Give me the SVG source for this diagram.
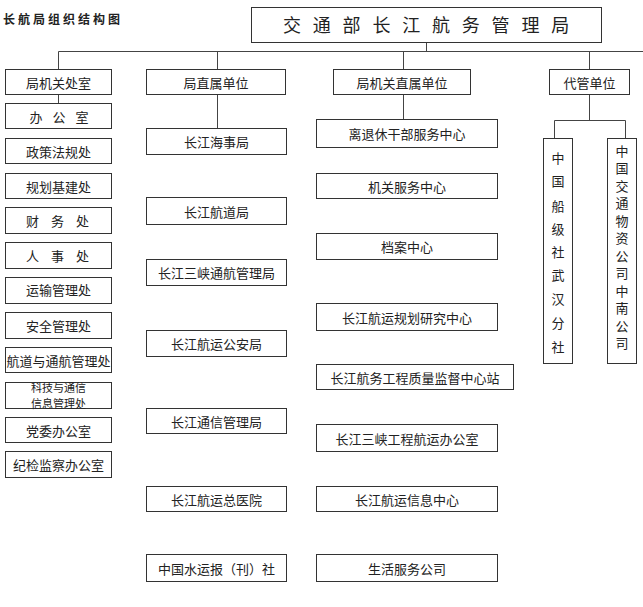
<svg xmlns="http://www.w3.org/2000/svg" width="643" height="607" viewBox="0 0 643 607">
<style>
  .bx { fill: #ffffff; stroke: #333333; stroke-width: 1; }
  .t { font-family: "Noto Sans CJK SC", "Noto Sans", sans-serif; font-size: 13px; fill: #222222; text-anchor: middle; dominant-baseline: central; }
  .t2 { font-family: "Noto Sans CJK SC", "Noto Sans", sans-serif; font-size: 11px; fill: #222222; text-anchor: middle; dominant-baseline: central; }
  .vt { font-family: "Noto Sans CJK SC", "Noto Sans", sans-serif; font-size: 13px; fill: #222222; text-anchor: middle; dominant-baseline: central; }
  .ln { stroke: #444444; stroke-width: 1; fill: none; }
</style>
<rect width="643" height="607" fill="#ffffff"/>
<text x="3" y="18" style="font-family: 'Noto Sans CJK SC', sans-serif; font-size: 12px; font-weight: bold; fill: #222; dominant-baseline: central; letter-spacing: 3px;">长航局组织结构图</text>

<g id="connectors">
  <path class="ln" d="M426.5 43 V51.5"/>
  <path class="ln" d="M58.5 51.5 H643"/>
  <path class="ln" d="M58.5 51.5 V69"/>
  <path class="ln" d="M217.5 51.5 V69"/>
  <path class="ln" d="M403.5 51.5 V69"/>
  <path class="ln" d="M589.5 51.5 V69"/>
  <path class="ln" d="M58.5 94 V103"/>
  <path class="ln" d="M217.5 94 V128"/>
  <path class="ln" d="M403.5 94 V119"/>
  <path class="ln" d="M589.5 95 V120.5 M554.5 138 V120.5 H625.5 V138"/>
</g>

<g id="root">
  <rect class="bx" x="251.5" y="7.5" width="350" height="35"/>
  <text x="283" y="32" style="font-family: 'Noto Sans CJK SC', sans-serif; font-size: 18px; fill: #222; letter-spacing: 11.8px;">交通部长江航务管理局</text>
</g>

<g id="h1"><rect class="bx" x="5.5" y="69.5" width="106" height="25"/><text class="t" x="58.5" y="82">局机关处室</text></g>
<g id="h2"><rect class="bx" x="146.5" y="69.5" width="139" height="25"/><text class="t" x="216" y="82">局直属单位</text></g>
<g id="h3"><rect class="bx" x="333.5" y="69.5" width="137" height="25"/><text class="t" x="402" y="82">局机关直属单位</text></g>
<g id="h4"><rect class="bx" x="549.5" y="69.5" width="80" height="25"/><text class="t" x="589.5" y="82">代管单位</text></g>

<g id="l1"><rect class="bx" x="5.5" y="103.5" width="106" height="25"/><text class="t" x="64" y="116" style="letter-spacing:10px">办公室</text></g>
<g id="l2"><rect class="bx" x="5.5" y="138.5" width="106" height="25"/><text class="t" x="58.5" y="151">政策法规处</text></g>
<g id="l3"><rect class="bx" x="5.5" y="173.5" width="106" height="25"/><text class="t" x="58.5" y="186">规划基建处</text></g>
<g id="l4"><rect class="bx" x="5.5" y="207.5" width="106" height="26"/><text class="t" x="63.5" y="220.5" style="letter-spacing:12px">财务处</text></g>
<g id="l5"><rect class="bx" x="5.5" y="242.5" width="106" height="26"/><text class="t" x="63.5" y="255.5" style="letter-spacing:12px">人事处</text></g>
<g id="l6"><rect class="bx" x="5.5" y="277.5" width="106" height="26"/><text class="t" x="58.5" y="289">运输管理处</text></g>
<g id="l7"><rect class="bx" x="5.5" y="312.5" width="106" height="26"/><text class="t" x="58.5" y="325">安全管理处</text></g>
<g id="l8"><rect class="bx" x="5.5" y="347.5" width="106" height="25"/><text class="t" x="58.5" y="360">航道与通航管理处</text></g>
<g id="l9"><rect class="bx" x="5.5" y="382.5" width="106" height="26"/><text class="t2" x="58.5" y="387">科技与通信</text><text class="t2" x="58.5" y="403">信息管理处</text></g>
<g id="l10"><rect class="bx" x="5.5" y="417.5" width="106" height="25"/><text class="t" x="58.5" y="430">党委办公室</text></g>
<g id="l11"><rect class="bx" x="5.5" y="451.5" width="106" height="26"/><text class="t" x="58.5" y="464.5">纪检监察办公室</text></g>

<g id="m1"><rect class="bx" x="146.5" y="128.5" width="140" height="26"/><text class="t" x="216.5" y="141.5">长江海事局</text></g>
<g id="m2"><rect class="bx" x="146.5" y="197.5" width="140" height="27"/><text class="t" x="216.5" y="211">长江航道局</text></g>
<g id="m3"><rect class="bx" x="146.5" y="259.5" width="140" height="26"/><text class="t" x="216.5" y="272.5">长江三峡通航管理局</text></g>
<g id="m4"><rect class="bx" x="146.5" y="330.5" width="140" height="26"/><text class="t" x="216.5" y="343.5">长江航运公安局</text></g>
<g id="m5"><rect class="bx" x="146.5" y="408.5" width="140" height="25"/><text class="t" x="216.5" y="421">长江通信管理局</text></g>
<g id="m6"><rect class="bx" x="146.5" y="486.5" width="140" height="25"/><text class="t" x="216.5" y="499">长江航运总医院</text></g>
<g id="m7"><rect class="bx" x="146.5" y="554.5" width="140" height="27"/><text class="t" x="216.5" y="568">中国水运报（刊）社</text></g>

<g id="c1"><rect class="bx" x="316.5" y="119.5" width="181" height="28"/><text class="t" x="407" y="133.5">离退休干部服务中心</text></g>
<g id="c2"><rect class="bx" x="316.5" y="173.5" width="181" height="25"/><text class="t" x="407" y="186">机关服务中心</text></g>
<g id="c3"><rect class="bx" x="316.5" y="233.5" width="181" height="26"/><text class="t" x="407" y="246.5">档案中心</text></g>
<g id="c4"><rect class="bx" x="316.5" y="303.5" width="181" height="27"/><text class="t" x="407" y="317">长江航运规划研究中心</text></g>
<g id="c5"><rect class="bx" x="316.5" y="364.5" width="197" height="25"/><text class="t" x="415" y="377">长江航务工程质量监督中心站</text></g>
<g id="c6"><rect class="bx" x="316.5" y="424.5" width="181" height="27"/><text class="t" x="407" y="438">长江三峡工程航运办公室</text></g>
<g id="c7"><rect class="bx" x="316.5" y="486.5" width="181" height="25"/><text class="t" x="407" y="499">长江航运信息中心</text></g>
<g id="c8"><rect class="bx" x="316.5" y="554.5" width="181" height="27"/><text class="t" x="407" y="568">生活服务公司</text></g>

<g id="r1">
  <rect class="bx" x="543.5" y="138.5" width="29" height="225"/>
  <text class="vt" x="558" y="157">中</text>
  <text class="vt" x="558" y="180">国</text>
  <text class="vt" x="558" y="205">船</text>
  <text class="vt" x="558" y="228">级</text>
  <text class="vt" x="558" y="251">社</text>
  <text class="vt" x="558" y="274">武</text>
  <text class="vt" x="558" y="298">汉</text>
  <text class="vt" x="558" y="322">分</text>
  <text class="vt" x="558" y="346">社</text>
</g>
<g id="r2">
  <rect class="bx" x="607.5" y="138.5" width="29" height="225"/>
  <text class="vt" x="622" y="150">中</text>
  <text class="vt" x="622" y="167.5">国</text>
  <text class="vt" x="622" y="185">交</text>
  <text class="vt" x="622" y="202.5">通</text>
  <text class="vt" x="622" y="220">物</text>
  <text class="vt" x="622" y="237.5">资</text>
  <text class="vt" x="622" y="255">公</text>
  <text class="vt" x="622" y="272.5">司</text>
  <text class="vt" x="622" y="290">中</text>
  <text class="vt" x="622" y="307.5">南</text>
  <text class="vt" x="622" y="325">公</text>
  <text class="vt" x="622" y="342.5">司</text>
</g>
</svg>
